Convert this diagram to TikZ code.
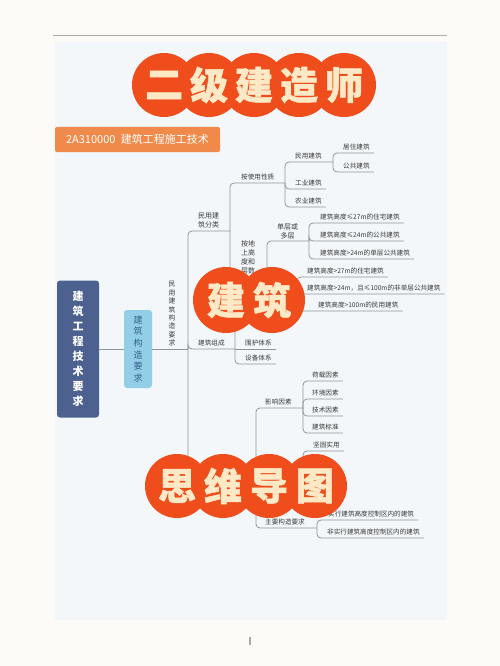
\documentclass[tikz,border=0pt]{standalone}
\usepackage{fontspec}
\setmainfont{Noto Sans CJK SC}
\newfontfamily\bannerfont{Noto Sans CJK SC}[BoldFeatures={FakeBold=1.2}]
\usetikzlibrary{positioning}

\definecolor{pagebg}{HTML}{FCFBF8}
\definecolor{panelbg}{HTML}{F3F7FA}
\definecolor{rulegray}{HTML}{ABABAB}
\definecolor{bannerred}{HTML}{F04D1C}
\definecolor{cream}{HTML}{FDE9C6}
\definecolor{barorange}{HTML}{F08A4B}
\definecolor{rootblue}{HTML}{4D6190}
\definecolor{subblue}{HTML}{92CFE6}
\definecolor{subtext}{HTML}{35608A}
\definecolor{linkgray}{HTML}{8F959D}
\definecolor{labelgray}{HTML}{3A3A3A}

\tikzset{
  link/.style={draw=linkgray, line width=0.8pt, rounded corners=4pt},
  leaf/.style={anchor=south west, inner xsep=4pt, inner ysep=2.5pt, text=labelgray,
               font=\fontsize{6.6}{8}\selectfont},
  vleaf/.style={leaf, align=center, font=\fontsize{7}{9}\selectfont},
  secbar/.style={fill=barorange, text=white, rounded corners=2pt, minimum width=165pt,
                 minimum height=25pt, font=\fontsize{11}{12}\selectfont},
  rootbox/.style={fill=rootblue, text=white, rounded corners=3pt, minimum width=42pt,
                  minimum height=137pt, align=center, font=\fontsize{11}{15}\selectfont\bfseries},
  subbox/.style={fill=subblue, text=subtext, rounded corners=3pt, minimum width=28pt,
                 minimum height=78pt, align=center, font=\fontsize{9}{11.7}\selectfont},
  bannertext/.style={text=cream, font=\bannerfont\fontsize{38}{38}\selectfont\bfseries},
}

\begin{document}
\begin{tikzpicture}[x=1pt, y=-1pt]
% Page, panel and rule
\useasboundingbox (0,0) rectangle (500,666);
\fill[pagebg] (0,0) rectangle (500,666);
\fill[panelbg] (55,42) rectangle (447,620);
\draw[rulegray, line width=0.8pt] (53,35) -- (447,35);
\draw[rulegray, line width=1.2pt] (250,637) -- (250,645);

% Section bar
\node[secbar] (sec) at (137.5,139.5) {2A310000\hspace{0.5em}建筑工程施工技术};

% Root and first level
\node[rootbox] (root) at (78,349) {建\\筑\\工\\程\\技\\术\\要\\求};
\node[subbox] (sub) at (138,349) {建\\筑\\构\\造\\要\\求};
\node[vleaf, anchor=south, font=\fontsize{6.8}{8.4}\selectfont] (civil) at (172,349)
  {民\\用\\建\\筑\\构\\造\\要\\求};

% Junctions
\coordinate (civJ) at (188,349);
\coordinate (clsJ) at (230,231);
\coordinate (useJ) at (285,183);
\coordinate (civbJ) at (333,162);
\coordinate (hgtJ) at (267,277);
\coordinate (lowJ) at (309,241);
\coordinate (highJ) at (297,285);
\coordinate (compJ) at (235,349);
\coordinate (compTop) at (235,326);
\coordinate (lowerJ) at (256,468);
\coordinate (facJ) at (303,408);
\coordinate (prinJ) at (303,476);
\coordinate (prinEnd) at (303,500);
\coordinate (mainJ) at (317,528);

% Classification branch
\node[vleaf] (cls) at (194,231) {民用建\\筑分类};
\node[leaf] (use) at (237,183) {按使用性质};
\node[vleaf] (hgt) at (237,277) {按地\\上高\\度和\\层数};
\foreach \name/\y/\txt in {civb/162/民用建筑, ind/189/工业建筑, agr/207/农业建筑}
  \node[leaf] (\name) at (291,\y) {\txt};
\node[leaf] (home) at (339,153) {居住建筑};
\node[leaf] (pub) at (339,172) {公共建筑};
\node[vleaf] (low) at (273,242) {单层或\\多层};
\node[leaf] (r1) at (316,223) {建筑高度≤27m的住宅建筑};
\node[leaf] (r2) at (316,241) {建筑高度≤24m的公共建筑};
\node[leaf] (r3) at (316,259) {建筑高度>24m的单层公共建筑};
\node[leaf] (r4) at (303,277) {建筑高度>27m的住宅建筑};
\node[leaf] (r5) at (303,294) {建筑高度>24m，且≤100m的非单层公共建筑};
\node[leaf] (r6) at (314,311) {建筑高度>100m的民用建筑};

% Composition branch
\node[leaf] (comp) at (194,349) {建筑组成};
\node[leaf] (wall) at (241,349) {围护体系};
\node[leaf] (equip) at (241,364) {设备体系};

% Lower branch
\node[leaf] (fac) at (261,408) {影响因素};
\foreach \name/\y/\txt in {load/381/荷载因素, env/399/环境因素, tech/416/技术因素, std/433/建筑标准}
  \node[leaf] (\name) at (308,\y) {\txt};
\node[leaf] (solid) at (309,451) {坚固实用};
\node[leaf] (mainreq) at (261,528) {主要构造要求};
\node[leaf] (ctrl) at (324,520) {实行建筑高度控制区内的建筑};
\node[leaf] (nctrl) at (323,538) {非实行建筑高度控制区内的建筑};

% Connectors
\draw[link] (root) -- (sub);
\draw[link] (sub.east |- civJ) -- (civJ);
\foreach \j in {clsJ,compJ,lowerJ} \draw[link] (civJ) |- (\j);
\foreach \j in {useJ,hgtJ} \draw[link] (clsJ) |- (\j);
\draw[link] (useJ) |- (civbJ);
\foreach \leaf in {ind,agr} \draw[link] (useJ) |- (\leaf.south east);
\foreach \leaf in {home,pub} \draw[link] (civbJ) |- (\leaf.south east);
\draw[link] (hgtJ) |- (lowJ);
\draw[link] (hgtJ) |- (highJ);
\draw[link] (hgtJ) |- (r6.south east);
\foreach \leaf in {r1,r2,r3} \draw[link] (lowJ) |- (\leaf.south east);
\foreach \leaf in {r4,r5} \draw[link] (highJ) |- (\leaf.south east);
\draw[link] (compTop) -- (compJ) |- (equip.south east);
\draw[link] (compJ) -- (wall.south east);
\foreach \j in {facJ,prinJ,mainJ} \draw[link] (lowerJ) |- (\j);
\foreach \leaf in {load,env,tech,std} \draw[link] (facJ) |- (\leaf.south east);
\draw[link] (prinEnd) -- (prinJ) |- (solid.south east);
\foreach \leaf in {ctrl,nctrl} \draw[link] (mainJ) |- (\leaf.south east);

% Banners
\foreach \i in {0,...,4} \fill[bannerred] (164+45*\i,85) circle (32pt);
\foreach \c [count=\i from 0] in {二,级,建,造,师}
  \node[bannertext] (ta\i) at (164+45*\i,85) {\c};
\foreach \i in {0,1} \fill[bannerred] (226+46*\i,300) circle (33pt);
\foreach \c [count=\i from 0] in {建,筑}
  \node[bannertext] (tb\i) at (226+46*\i,300) {\c};
\foreach \i in {0,...,3} \fill[bannerred] (177+46*\i,486) circle (32pt);
\foreach \c [count=\i from 0] in {思,维,导,图}
  \node[bannertext] (tc\i) at (177+46*\i,486) {\c};
\end{tikzpicture}
\end{document}
